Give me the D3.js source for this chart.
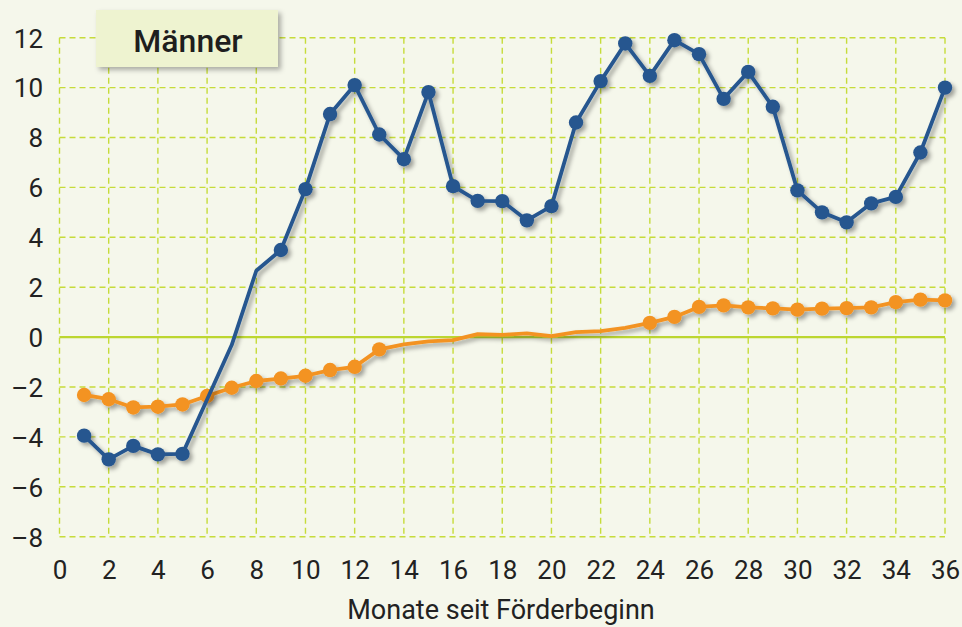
<!DOCTYPE html>
<html>
<head>
<meta charset="utf-8">
<script src="https://cdn.jsdelivr.net/npm/d3@7"></script>
<style>
  html, body { margin: 0; padding: 0; background: #f5f7eb; }
  svg { display: block; }
</style>
</head>
<body>
<div id="chart"></div>
<script>
// ---- data ----
const months = d3.range(1, 37);
const blueValues = [-3.95, -4.9, -4.36, -4.7, -4.68, -2.5, -0.32, 2.66, 3.49, 5.93,
  8.94, 10.1, 8.12, 7.13, 9.82, 6.05, 5.46, 5.45, 4.68, 5.25,
  8.6, 10.26, 11.77, 10.47, 11.9, 11.34, 9.55, 10.63, 9.23, 5.88,
  5.0, 4.6, 5.36, 5.62, 7.4, 10.0];
const blueMarked = [1,1,1,1,1,0,0,0,1,1, 1,1,1,1,1,1,1,1,1,1, 1,1,1,1,1,1,1,1,1,1, 1,1,1,1,1,1];
const orangeValues = [-2.32, -2.49, -2.82, -2.79, -2.7, -2.36, -2.03, -1.76, -1.66, -1.55,
  -1.32, -1.19, -0.49, -0.29, -0.17, -0.12, 0.12, 0.09, 0.15, 0.04,
  0.2, 0.24, 0.37, 0.57, 0.81, 1.21, 1.27, 1.19, 1.15, 1.1,
  1.14, 1.16, 1.19, 1.4, 1.5, 1.47];
const orangeMarked = [1,1,1,1,1,1,1,1,1,1, 1,1,1,0,0,0,0,0,0,0, 0,0,0,1,1,1,1,1,1,1, 1,1,1,1,1,1];
const xTicks = d3.range(0, 37, 2);
const yTicks = d3.range(-8, 13, 2);
const titleText = "Männer";
const xAxisTitle = "Monate seit Förderbeginn";

// ---- layout ----
const W = 962, H = 627;
const x = d3.scaleLinear().domain([0, 36]).range([59.5, 945]);
const y = d3.scaleLinear().domain([-8, 12]).range([536.7, 37.7]);
const font = "Roboto, 'Noto Sans', sans-serif";

const svg = d3.select("#chart").append("svg").attr("width", W).attr("height", H);
svg.append("rect").attr("width", W).attr("height", H).attr("fill", "#f5f7eb");

const defs = svg.append("defs");
const sh = defs.append("filter").attr("id", "shadow")
  .attr("x", "-20%").attr("y", "-20%").attr("width", "140%").attr("height", "140%");
sh.append("feDropShadow").attr("dx", 3).attr("dy", 3).attr("stdDeviation", 2)
  .attr("flood-color", "#000").attr("flood-opacity", 0.35);
const sh2 = defs.append("filter").attr("id", "boxshadow")
  .attr("x", "-20%").attr("y", "-30%").attr("width", "140%").attr("height", "160%");
sh2.append("feDropShadow").attr("dx", 3).attr("dy", 3).attr("stdDeviation", 2.5)
  .attr("flood-color", "#000").attr("flood-opacity", 0.3);

const gridColor = "#c6dc3a";
// grid
const grid = svg.append("g");
grid.selectAll("line.v").data(xTicks).join("line")
  .attr("x1", d => x(d)).attr("x2", d => x(d))
  .attr("y1", y(12)).attr("y2", y(-8))
  .attr("stroke", gridColor).attr("stroke-width", 1.4).attr("stroke-dasharray", "6,4");
grid.selectAll("line.h").data(yTicks.filter(d => d !== 0)).join("line")
  .attr("x1", x(0)).attr("x2", x(36))
  .attr("y1", d => y(d)).attr("y2", d => y(d))
  .attr("stroke", gridColor).attr("stroke-width", 1.4).attr("stroke-dasharray", "6,4");
grid.append("line")
  .attr("x1", x(0)).attr("x2", x(36)).attr("y1", y(0)).attr("y2", y(0))
  .attr("stroke", "#bcd630").attr("stroke-width", 2.2);

// axes (labels only)
const yAxis = d3.axisLeft(y).tickValues(yTicks).tickSize(0).tickPadding(0)
  .tickFormat(d => d < 0 ? "\u2013" + Math.abs(d) : String(d));
const gy = svg.append("g").attr("transform", "translate(43,0)").call(yAxis);
gy.select(".domain").remove();
gy.selectAll("text").attr("font-family", font).attr("font-size", 26).attr("fill", "#222")
  .attr("dy", "0.36em");

const xAxis = d3.axisBottom(x).tickValues(xTicks).tickSize(0).tickPadding(0);
const gx = svg.append("g").attr("transform", "translate(0,579)").call(xAxis);
gx.select(".domain").remove();
gx.selectAll("text").attr("font-family", font).attr("font-size", 26).attr("fill", "#222")
  .attr("y", 0).attr("dy", 0);

svg.append("text").attr("x", 501).attr("y", 619)
  .attr("text-anchor", "middle").attr("font-family", font).attr("font-size", 27)
  .attr("fill", "#222").text(xAxisTitle);

// series
const series = [
  { values: orangeValues, marked: orangeMarked, color: "#f39322" },
  { values: blueValues, marked: blueMarked, color: "#26568f" }
];
const line = d3.line().x((d, i) => x(months[i])).y(d => y(d));
series.forEach(s => {
  const g = svg.append("g").attr("filter", "url(#shadow)");
  g.append("path").datum(s.values).attr("d", line)
    .attr("fill", "none").attr("stroke", s.color).attr("stroke-width", 3.8)
    .attr("stroke-linejoin", "round");
  g.selectAll("circle").data(s.values.map((v, i) => ({ v, i })).filter(d => s.marked[d.i]))
    .join("circle")
    .attr("cx", d => x(months[d.i])).attr("cy", d => y(d.v)).attr("r", 7.2)
    .attr("fill", s.color);
});

// title box
const tb = svg.append("g");
tb.append("rect").attr("x", 96).attr("y", 10).attr("width", 182).attr("height", 57)
  .attr("fill", "#eef3d0").attr("filter", "url(#boxshadow)");
tb.append("text").attr("x", 188).attr("y", 51.5).attr("text-anchor", "middle")
  .attr("font-family", font).attr("font-size", 32).attr("font-weight", 500)
  .attr("fill", "#1e1e1e").text(titleText);
</script>
</body>
</html>
